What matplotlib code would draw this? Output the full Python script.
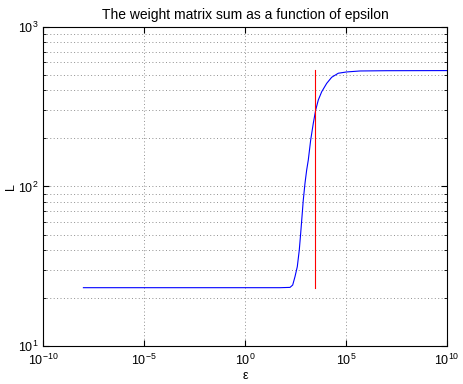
import numpy as np
import matplotlib.pyplot as plt

# values (log10 of epsilon, L)
log_eps = [-8.0, -4.0, 0.0, 1.733, 2.228, 2.361, 2.475, 2.589, 2.688, 2.757,
           2.822, 2.886, 2.970, 3.054, 3.134, 3.252, 3.381, 3.500, 3.629, 3.797,
           4.045, 4.292, 4.619, 5.035, 5.693, 7.0, 10.0]
L_vals = [23.2, 23.2, 23.2, 23.2, 23.3, 24.1, 27.2, 31.4, 40.0, 50.9,
          64.7, 82.3, 104.7, 126.9, 146.6, 195.6, 248.8, 301.8, 348.6, 392.6,
          443.2, 483.9, 513.0, 522.6, 530.0, 532.0, 533.0]

# vertical marker
marker_log_eps = 3.49
marker_L = [23.2, 535.0]

eps = 10.0 ** np.array(log_eps)
marker_eps = 10.0 ** marker_log_eps

plt.rcParams['font.family'] = ['Liberation Sans', 'DejaVu Sans']
plt.rcParams['font.size'] = 9

fig = plt.figure(figsize=(4.63, 3.84), dpi=100)
ax = fig.add_axes([0.0929, 0.099, 0.8725, 0.8307])

ax.loglog(eps, L_vals, color='blue', linewidth=0.8)
ax.plot([marker_eps, marker_eps], marker_L, color='red', linewidth=0.8)

ax.set_xlim(1e-10, 1e10)
ax.set_ylim(1e1, 1e3)
ax.set_xticks([1e-10, 1e-5, 1e0, 1e5, 1e10])
ax.xaxis.set_minor_locator(plt.NullLocator())

grid_style = dict(linestyle=(0, (1, 2.5)), color='#909090', linewidth=0.7)
ax.grid(True, which='major', **grid_style)
ax.grid(True, which='minor', axis='y', **grid_style)

ax.tick_params(which='both', direction='in', top=True, right=True, labelsize=9)
ax.tick_params(which='major', length=4)
ax.tick_params(which='minor', length=2)
ax.tick_params(axis='x', pad=5)
ax.tick_params(axis='y', pad=3)
ax.tick_params(axis='y', which='minor', labelleft=False)

ax.set_xlabel('ε', fontsize=9, labelpad=1)
ax.set_ylabel('L', fontsize=9, labelpad=1)
ax.set_title('The weight matrix sum as a function of epsilon', fontsize=10, pad=6)

fig.savefig('out.png', dpi=100)
